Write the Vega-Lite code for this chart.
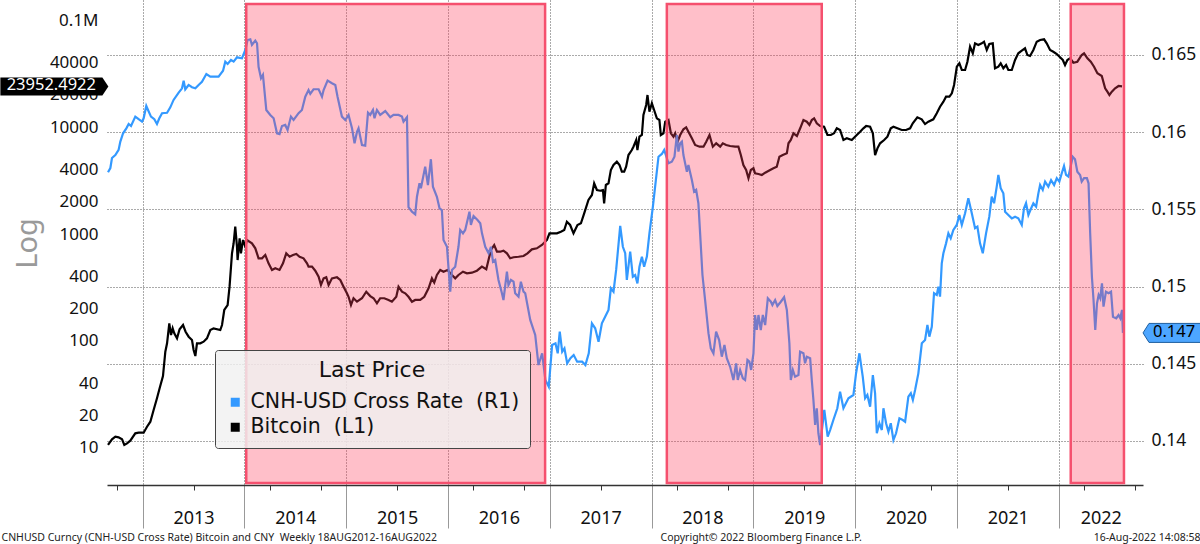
{
 "$schema": "https://vega.github.io/schema/vega-lite/v6.json",
 "width": 1036,
 "height": 485,
 "autosize": {"type": "none"},
 "padding": {"left": 107, "top": 0, "right": 57, "bottom": 59},
 "background": "white",
 "config": {
  "view": {"stroke": null},
  "font": "Noto Sans",
  "axis": {"labelFont": "Noto Sans", "titleFont": "Noto Sans", "labelColor": "#111", "titleColor": "#222"},
  "legend": {"labelFont": "DejaVu Sans", "titleFont": "DejaVu Sans"}
 },
 "datasets": {
  "btc": [
{"t":2012.660,"v":10.67},{"t":2012.699,"v":12.06},{"t":2012.732,"v":12.75},{"t":2012.764,"v":12.59},{"t":2012.798,"v":12.06},{"t":2012.820,"v":10.67},{"t":2012.847,"v":11.06},{"t":2012.879,"v":11.70},{"t":2012.928,"v":13.72},{"t":2012.961,"v":13.90},{"t":2013.010,"v":13.90},{"t":2013.043,"v":15.81},{"t":2013.076,"v":17.62},{"t":2013.108,"v":22.65},{"t":2013.141,"v":29.14},{"t":2013.167,"v":36.14},{"t":2013.200,"v":47.1},{"t":2013.223,"v":79.4},{"t":2013.240,"v":95.2},{"t":2013.262,"v":146.3},{"t":2013.279,"v":113.8},{"t":2013.295,"v":131.4},{"t":2013.311,"v":118.0},{"t":2013.338,"v":105.9},{"t":2013.363,"v":128.6},{"t":2013.397,"v":141.1},{"t":2013.422,"v":122.1},{"t":2013.452,"v":109.7},{"t":2013.485,"v":102.2},{"t":2013.501,"v":82.4},{"t":2013.518,"v":72.4},{"t":2013.534,"v":95.2},{"t":2013.567,"v":95.2},{"t":2013.599,"v":98.5},{"t":2013.632,"v":105.9},{"t":2013.665,"v":126.7},{"t":2013.697,"v":131.4},{"t":2013.763,"v":126.7},{"t":2013.780,"v":141.1},{"t":2013.802,"v":194.9},{"t":2013.835,"v":217.0},{"t":2013.854,"v":321.8},{"t":2013.878,"v":660},{"t":2013.894,"v":819},{"t":2013.910,"v":1170},{"t":2013.927,"v":761},{"t":2013.933,"v":571},{"t":2013.953,"v":912},{"t":2013.966,"v":660},{"t":2013.986,"v":879},{"t":2014.009,"v":761},{"t":2014.025,"v":879},{"t":2014.074,"v":819},{"t":2014.107,"v":735},{"t":2014.139,"v":593},{"t":2014.173,"v":593},{"t":2014.205,"v":637},{"t":2014.237,"v":532},{"t":2014.271,"v":461},{"t":2014.303,"v":478},{"t":2014.345,"v":461},{"t":2014.379,"v":532},{"t":2014.411,"v":660},{"t":2014.444,"v":613},{"t":2014.477,"v":637},{"t":2014.510,"v":650},{"t":2014.542,"v":613},{"t":2014.581,"v":593},{"t":2014.615,"v":532},{"t":2014.630,"v":495},{"t":2014.664,"v":495},{"t":2014.696,"v":454},{"t":2014.729,"v":399},{"t":2014.752,"v":334},{"t":2014.778,"v":385},{"t":2014.804,"v":394},{"t":2014.827,"v":334},{"t":2014.860,"v":385},{"t":2014.909,"v":394},{"t":2014.942,"v":372},{"t":2014.974,"v":322},{"t":2015.007,"v":279},{"t":2015.023,"v":259},{"t":2015.047,"v":217},{"t":2015.072,"v":251},{"t":2015.106,"v":233},{"t":2015.155,"v":251},{"t":2015.197,"v":289},{"t":2015.236,"v":263},{"t":2015.269,"v":251},{"t":2015.302,"v":225},{"t":2015.334,"v":251},{"t":2015.374,"v":251},{"t":2015.416,"v":242},{"t":2015.449,"v":233},{"t":2015.492,"v":259},{"t":2015.514,"v":322},{"t":2015.548,"v":289},{"t":2015.580,"v":279},{"t":2015.612,"v":259},{"t":2015.646,"v":233},{"t":2015.678,"v":242},{"t":2015.727,"v":242},{"t":2015.767,"v":259},{"t":2015.809,"v":311},{"t":2015.842,"v":385},{"t":2015.865,"v":351},{"t":2015.891,"v":414},{"t":2015.924,"v":461},{"t":2015.956,"v":444},{"t":2015.995,"v":461},{"t":2016.039,"v":414},{"t":2016.071,"v":385},{"t":2016.103,"v":414},{"t":2016.147,"v":444},{"t":2016.186,"v":429},{"t":2016.235,"v":435},{"t":2016.284,"v":454},{"t":2016.333,"v":495},{"t":2016.376,"v":468},{"t":2016.398,"v":571},{"t":2016.422,"v":709},{"t":2016.454,"v":789},{"t":2016.481,"v":683},{"t":2016.513,"v":683},{"t":2016.545,"v":698},{"t":2016.579,"v":660},{"t":2016.611,"v":593},{"t":2016.644,"v":606},{"t":2016.693,"v":613},{"t":2016.742,"v":623},{"t":2016.781,"v":660},{"t":2016.824,"v":719},{"t":2016.873,"v":735},{"t":2016.923,"v":789},{"t":2016.972,"v":879},{"t":2016.997,"v":1015},{"t":2017.036,"v":1015},{"t":2017.070,"v":1015},{"t":2017.109,"v":1051},{"t":2017.142,"v":1090},{"t":2017.168,"v":1303},{"t":2017.200,"v":1214},{"t":2017.233,"v":1015},{"t":2017.272,"v":1214},{"t":2017.306,"v":1259},{"t":2017.338,"v":1561},{"t":2017.380,"v":2079},{"t":2017.414,"v":2315},{"t":2017.436,"v":2978},{"t":2017.463,"v":2577},{"t":2017.495,"v":2539},{"t":2017.522,"v":2577},{"t":2017.534,"v":1936},{"t":2017.551,"v":2871},{"t":2017.577,"v":2978},{"t":2017.600,"v":3964},{"t":2017.626,"v":4415},{"t":2017.659,"v":4740},{"t":2017.685,"v":4415},{"t":2017.708,"v":3821},{"t":2017.731,"v":3821},{"t":2017.750,"v":4256},{"t":2017.773,"v":5472},{"t":2017.806,"v":6095},{"t":2017.822,"v":6544},{"t":2017.849,"v":7558},{"t":2017.861,"v":6095},{"t":2017.881,"v":8118},{"t":2017.905,"v":8419},{"t":2017.920,"v":12950},{"t":2017.947,"v":16060},{"t":2017.960,"v":19910},{"t":2017.979,"v":13900},{"t":2018.003,"v":16660},{"t":2018.025,"v":14420},{"t":2018.052,"v":12060},{"t":2018.077,"v":11630},{"t":2018.091,"v":8419},{"t":2018.117,"v":8733},{"t":2018.134,"v":11210},{"t":2018.166,"v":11630},{"t":2018.190,"v":8733},{"t":2018.215,"v":8118},{"t":2018.232,"v":8733},{"t":2018.255,"v":7287},{"t":2018.281,"v":8419},{"t":2018.313,"v":9517},{"t":2018.340,"v":9935},{"t":2018.362,"v":9040},{"t":2018.396,"v":7844},{"t":2018.428,"v":6790},{"t":2018.471,"v":6544},{"t":2018.510,"v":6544},{"t":2018.537,"v":7287},{"t":2018.569,"v":8419},{"t":2018.602,"v":6544},{"t":2018.635,"v":7043},{"t":2018.674,"v":6544},{"t":2018.700,"v":7043},{"t":2018.733,"v":6790},{"t":2018.772,"v":6644},{"t":2018.821,"v":6544},{"t":2018.853,"v":6544},{"t":2018.877,"v":5472},{"t":2018.902,"v":4415},{"t":2018.929,"v":3964},{"t":2018.952,"v":3316},{"t":2018.975,"v":3964},{"t":2019.001,"v":4111},{"t":2019.017,"v":3693},{"t":2019.050,"v":3637},{"t":2019.083,"v":3560},{"t":2019.116,"v":3741},{"t":2019.165,"v":3964},{"t":2019.197,"v":4111},{"t":2019.230,"v":4256},{"t":2019.256,"v":5278},{"t":2019.289,"v":5472},{"t":2019.329,"v":5678},{"t":2019.345,"v":7043},{"t":2019.368,"v":7558},{"t":2019.394,"v":8733},{"t":2019.428,"v":8240},{"t":2019.460,"v":9725},{"t":2019.492,"v":11630},{"t":2019.525,"v":11210},{"t":2019.551,"v":10440},{"t":2019.574,"v":11630},{"t":2019.597,"v":12060},{"t":2019.623,"v":10830},{"t":2019.656,"v":10210},{"t":2019.695,"v":10060},{"t":2019.728,"v":8419},{"t":2019.761,"v":8419},{"t":2019.793,"v":8733},{"t":2019.820,"v":9725},{"t":2019.852,"v":9376},{"t":2019.885,"v":7558},{"t":2019.918,"v":7844},{"t":2019.967,"v":7558},{"t":2020.016,"v":8419},{"t":2020.049,"v":9040},{"t":2020.081,"v":9725},{"t":2020.108,"v":10210},{"t":2020.147,"v":10060},{"t":2020.174,"v":8733},{"t":2020.196,"v":5472},{"t":2020.219,"v":6321},{"t":2020.245,"v":7043},{"t":2020.285,"v":7558},{"t":2020.317,"v":8118},{"t":2020.350,"v":9725},{"t":2020.376,"v":10060},{"t":2020.415,"v":9725},{"t":2020.458,"v":9376},{"t":2020.500,"v":9376},{"t":2020.540,"v":9725},{"t":2020.566,"v":10830},{"t":2020.611,"v":12320},{"t":2020.654,"v":11800},{"t":2020.687,"v":10660},{"t":2020.719,"v":11210},{"t":2020.768,"v":11800},{"t":2020.802,"v":13430},{"t":2020.834,"v":15480},{"t":2020.867,"v":17230},{"t":2020.893,"v":19200},{"t":2020.926,"v":19200},{"t":2020.950,"v":20650},{"t":2020.972,"v":24690},{"t":2020.999,"v":36610},{"t":2021.024,"v":39390},{"t":2021.048,"v":34100},{"t":2021.080,"v":34100},{"t":2021.103,"v":40760},{"t":2021.129,"v":56300},{"t":2021.156,"v":48850},{"t":2021.178,"v":60550},{"t":2021.210,"v":58400},{"t":2021.244,"v":60550},{"t":2021.266,"v":62680},{"t":2021.293,"v":52450},{"t":2021.318,"v":59670},{"t":2021.352,"v":60550},{"t":2021.374,"v":35370},{"t":2021.407,"v":36610},{"t":2021.430,"v":39390},{"t":2021.456,"v":35370},{"t":2021.483,"v":37970},{"t":2021.505,"v":34100},{"t":2021.539,"v":34100},{"t":2021.571,"v":42280},{"t":2021.603,"v":48850},{"t":2021.637,"v":51670},{"t":2021.669,"v":54390},{"t":2021.692,"v":47100},{"t":2021.718,"v":46100},{"t":2021.751,"v":52450},{"t":2021.784,"v":62680},{"t":2021.817,"v":65040},{"t":2021.856,"v":66020},{"t":2021.882,"v":60550},{"t":2021.915,"v":52450},{"t":2021.947,"v":50540},{"t":2021.981,"v":48110},{"t":2022.013,"v":44810},{"t":2022.040,"v":42280},{"t":2022.062,"v":37970},{"t":2022.085,"v":42280},{"t":2022.112,"v":43850},{"t":2022.144,"v":39900},{"t":2022.183,"v":40760},{"t":2022.226,"v":47100},{"t":2022.249,"v":48850},{"t":2022.282,"v":43850},{"t":2022.315,"v":40760},{"t":2022.347,"v":36610},{"t":2022.380,"v":31770},{"t":2022.423,"v":29970},{"t":2022.456,"v":22990},{"t":2022.478,"v":21380},{"t":2022.498,"v":19910},{"t":2022.522,"v":21380},{"t":2022.554,"v":22990},{"t":2022.588,"v":24160},{"t":2022.622,"v":23952.49}
  ],
  "cnh": [
{"t":2012.660,"v":0.15740},{"t":2012.683,"v":0.15768},{"t":2012.699,"v":0.15833},{"t":2012.732,"v":0.15852},{"t":2012.764,"v":0.15885},{"t":2012.781,"v":0.15939},{"t":2012.808,"v":0.15993},{"t":2012.840,"v":0.16025},{"t":2012.863,"v":0.16053},{"t":2012.886,"v":0.16040},{"t":2012.928,"v":0.16101},{"t":2012.961,"v":0.16084},{"t":2012.994,"v":0.16068},{"t":2013.010,"v":0.16090},{"t":2013.036,"v":0.16170},{"t":2013.053,"v":0.16144},{"t":2013.082,"v":0.16101},{"t":2013.115,"v":0.16084},{"t":2013.141,"v":0.16053},{"t":2013.164,"v":0.16090},{"t":2013.191,"v":0.16123},{"t":2013.240,"v":0.16126},{"t":2013.272,"v":0.16161},{"t":2013.304,"v":0.16209},{"t":2013.354,"v":0.16256},{"t":2013.387,"v":0.16284},{"t":2013.403,"v":0.16334},{"t":2013.419,"v":0.16278},{"t":2013.452,"v":0.16306},{"t":2013.485,"v":0.16291},{"t":2013.518,"v":0.16284},{"t":2013.550,"v":0.16306},{"t":2013.583,"v":0.16327},{"t":2013.626,"v":0.16377},{"t":2013.665,"v":0.16360},{"t":2013.746,"v":0.16360},{"t":2013.790,"v":0.16398},{"t":2013.812,"v":0.16457},{"t":2013.835,"v":0.16442},{"t":2013.868,"v":0.16468},{"t":2013.894,"v":0.16457},{"t":2013.927,"v":0.16485},{"t":2013.976,"v":0.16479},{"t":2014.009,"v":0.16533},{"t":2014.031,"v":0.16597},{"t":2014.058,"v":0.16602},{"t":2014.074,"v":0.16565},{"t":2014.107,"v":0.16593},{"t":2014.124,"v":0.16576},{"t":2014.139,"v":0.16424},{"t":2014.163,"v":0.16349},{"t":2014.182,"v":0.16371},{"t":2014.215,"v":0.16144},{"t":2014.254,"v":0.16112},{"t":2014.287,"v":0.16090},{"t":2014.320,"v":0.15993},{"t":2014.345,"v":0.15988},{"t":2014.369,"v":0.16040},{"t":2014.401,"v":0.16047},{"t":2014.424,"v":0.16014},{"t":2014.457,"v":0.16101},{"t":2014.483,"v":0.16079},{"t":2014.532,"v":0.16123},{"t":2014.565,"v":0.16144},{"t":2014.598,"v":0.16230},{"t":2014.630,"v":0.16273},{"t":2014.647,"v":0.16248},{"t":2014.679,"v":0.16278},{"t":2014.729,"v":0.16278},{"t":2014.762,"v":0.16230},{"t":2014.778,"v":0.16273},{"t":2014.817,"v":0.16334},{"t":2014.860,"v":0.16317},{"t":2014.893,"v":0.16306},{"t":2014.915,"v":0.16230},{"t":2014.958,"v":0.16101},{"t":2014.991,"v":0.16079},{"t":2015.023,"v":0.16112},{"t":2015.057,"v":0.16025},{"t":2015.082,"v":0.15928},{"t":2015.106,"v":0.16003},{"t":2015.121,"v":0.16025},{"t":2015.155,"v":0.15917},{"t":2015.187,"v":0.15913},{"t":2015.214,"v":0.16126},{"t":2015.236,"v":0.16112},{"t":2015.263,"v":0.16144},{"t":2015.278,"v":0.16090},{"t":2015.302,"v":0.16144},{"t":2015.334,"v":0.16112},{"t":2015.384,"v":0.16137},{"t":2015.433,"v":0.16097},{"t":2015.465,"v":0.16112},{"t":2015.514,"v":0.16112},{"t":2015.548,"v":0.16101},{"t":2015.563,"v":0.16068},{"t":2015.597,"v":0.16097},{"t":2015.612,"v":0.15514},{"t":2015.646,"v":0.15485},{"t":2015.678,"v":0.15468},{"t":2015.695,"v":0.15582},{"t":2015.720,"v":0.15669},{"t":2015.734,"v":0.15637},{"t":2015.776,"v":0.15777},{"t":2015.803,"v":0.15658},{"t":2015.832,"v":0.15825},{"t":2015.852,"v":0.15647},{"t":2015.891,"v":0.15582},{"t":2015.917,"v":0.15507},{"t":2015.940,"v":0.15496},{"t":2015.956,"v":0.15302},{"t":2015.990,"v":0.15258},{"t":2016.022,"v":0.14967},{"t":2016.039,"v":0.15108},{"t":2016.071,"v":0.15129},{"t":2016.103,"v":0.15258},{"t":2016.120,"v":0.15367},{"t":2016.147,"v":0.15345},{"t":2016.169,"v":0.15367},{"t":2016.192,"v":0.15431},{"t":2016.211,"v":0.15485},{"t":2016.225,"v":0.15399},{"t":2016.251,"v":0.15457},{"t":2016.290,"v":0.15431},{"t":2016.317,"v":0.15410},{"t":2016.334,"v":0.15345},{"t":2016.366,"v":0.15258},{"t":2016.399,"v":0.15216},{"t":2016.422,"v":0.15258},{"t":2016.442,"v":0.15161},{"t":2016.464,"v":0.15172},{"t":2016.496,"v":0.15043},{"t":2016.530,"v":0.14957},{"t":2016.545,"v":0.14913},{"t":2016.579,"v":0.15097},{"t":2016.594,"v":0.15010},{"t":2016.618,"v":0.15043},{"t":2016.644,"v":0.15032},{"t":2016.660,"v":0.14957},{"t":2016.693,"v":0.14935},{"t":2016.716,"v":0.15032},{"t":2016.742,"v":0.14967},{"t":2016.759,"v":0.14957},{"t":2016.808,"v":0.14784},{"t":2016.857,"v":0.14687},{"t":2016.889,"v":0.14492},{"t":2016.925,"v":0.14568},{"t":2016.957,"v":0.14395},{"t":2016.990,"v":0.14352},{"t":2017.023,"v":0.14622},{"t":2017.056,"v":0.14633},{"t":2017.078,"v":0.14568},{"t":2017.098,"v":0.14708},{"t":2017.122,"v":0.14578},{"t":2017.144,"v":0.14600},{"t":2017.171,"v":0.14503},{"t":2017.203,"v":0.14536},{"t":2017.235,"v":0.14557},{"t":2017.269,"v":0.14514},{"t":2017.318,"v":0.14514},{"t":2017.350,"v":0.14492},{"t":2017.383,"v":0.14568},{"t":2017.414,"v":0.14762},{"t":2017.446,"v":0.14730},{"t":2017.479,"v":0.14643},{"t":2017.512,"v":0.14762},{"t":2017.544,"v":0.14805},{"t":2017.577,"v":0.14849},{"t":2017.600,"v":0.14989},{"t":2017.626,"v":0.14967},{"t":2017.652,"v":0.15108},{"t":2017.692,"v":0.15393},{"t":2017.718,"v":0.15258},{"t":2017.741,"v":0.15216},{"t":2017.757,"v":0.15043},{"t":2017.790,"v":0.15226},{"t":2017.816,"v":0.15064},{"t":2017.839,"v":0.15075},{"t":2017.861,"v":0.15021},{"t":2017.881,"v":0.15129},{"t":2017.905,"v":0.15194},{"t":2017.927,"v":0.15129},{"t":2017.954,"v":0.15194},{"t":2017.979,"v":0.15345},{"t":2018.013,"v":0.15518},{"t":2018.035,"v":0.15647},{"t":2018.068,"v":0.15841},{"t":2018.101,"v":0.15859},{"t":2018.124,"v":0.15885},{"t":2018.166,"v":0.15799},{"t":2018.199,"v":0.15809},{"t":2018.225,"v":0.15841},{"t":2018.249,"v":0.15982},{"t":2018.264,"v":0.15874},{"t":2018.281,"v":0.15928},{"t":2018.298,"v":0.15939},{"t":2018.313,"v":0.15852},{"t":2018.347,"v":0.15744},{"t":2018.362,"v":0.15788},{"t":2018.396,"v":0.15690},{"t":2018.418,"v":0.15615},{"t":2018.438,"v":0.15626},{"t":2018.460,"v":0.15540},{"t":2018.477,"v":0.15345},{"t":2018.500,"v":0.15075},{"t":2018.526,"v":0.14913},{"t":2018.559,"v":0.14698},{"t":2018.582,"v":0.14600},{"t":2018.608,"v":0.14568},{"t":2018.634,"v":0.14708},{"t":2018.664,"v":0.14654},{"t":2018.690,"v":0.14546},{"t":2018.716,"v":0.14622},{"t":2018.739,"v":0.14536},{"t":2018.772,"v":0.14481},{"t":2018.804,"v":0.14395},{"t":2018.831,"v":0.14503},{"t":2018.847,"v":0.14395},{"t":2018.870,"v":0.14460},{"t":2018.897,"v":0.14406},{"t":2018.919,"v":0.14395},{"t":2018.942,"v":0.14525},{"t":2018.961,"v":0.14514},{"t":2018.978,"v":0.14460},{"t":2019.001,"v":0.14568},{"t":2019.017,"v":0.14816},{"t":2019.034,"v":0.14719},{"t":2019.050,"v":0.14816},{"t":2019.073,"v":0.14719},{"t":2019.093,"v":0.14816},{"t":2019.116,"v":0.14751},{"t":2019.142,"v":0.14924},{"t":2019.172,"v":0.14902},{"t":2019.187,"v":0.14881},{"t":2019.214,"v":0.14913},{"t":2019.236,"v":0.14874},{"t":2019.270,"v":0.14902},{"t":2019.302,"v":0.14931},{"t":2019.329,"v":0.14849},{"t":2019.354,"v":0.14633},{"t":2019.368,"v":0.14395},{"t":2019.388,"v":0.14460},{"t":2019.410,"v":0.14416},{"t":2019.443,"v":0.14427},{"t":2019.459,"v":0.14578},{"t":2019.492,"v":0.14568},{"t":2019.508,"v":0.14503},{"t":2019.525,"v":0.14546},{"t":2019.558,"v":0.14536},{"t":2019.574,"v":0.14395},{"t":2019.590,"v":0.14266},{"t":2019.607,"v":0.14104},{"t":2019.623,"v":0.14212},{"t":2019.639,"v":0.14050},{"t":2019.656,"v":0.13974},{"t":2019.697,"v":0.14201},{"t":2019.730,"v":0.14028},{"t":2019.754,"v":0.14071},{"t":2019.786,"v":0.14136},{"t":2019.825,"v":0.14212},{"t":2019.852,"v":0.14319},{"t":2019.885,"v":0.14212},{"t":2019.934,"v":0.14277},{"t":2019.983,"v":0.14298},{"t":2020.009,"v":0.14438},{"t":2020.042,"v":0.14568},{"t":2020.075,"v":0.14416},{"t":2020.098,"v":0.14277},{"t":2020.120,"v":0.14298},{"t":2020.147,"v":0.14222},{"t":2020.174,"v":0.14427},{"t":2020.196,"v":0.14309},{"t":2020.213,"v":0.14050},{"t":2020.238,"v":0.14115},{"t":2020.262,"v":0.14071},{"t":2020.278,"v":0.14212},{"t":2020.304,"v":0.14115},{"t":2020.327,"v":0.14060},{"t":2020.350,"v":0.14115},{"t":2020.376,"v":0.14006},{"t":2020.402,"v":0.14050},{"t":2020.435,"v":0.14147},{"t":2020.468,"v":0.14136},{"t":2020.491,"v":0.14125},{"t":2020.523,"v":0.14287},{"t":2020.547,"v":0.14309},{"t":2020.567,"v":0.14266},{"t":2020.589,"v":0.14330},{"t":2020.621,"v":0.14438},{"t":2020.655,"v":0.14633},{"t":2020.687,"v":0.14654},{"t":2020.710,"v":0.14751},{"t":2020.729,"v":0.14676},{"t":2020.753,"v":0.14740},{"t":2020.775,"v":0.14957},{"t":2020.802,"v":0.14946},{"t":2020.818,"v":0.14999},{"t":2020.834,"v":0.14935},{"t":2020.851,"v":0.15151},{"t":2020.867,"v":0.15216},{"t":2020.893,"v":0.15280},{"t":2020.916,"v":0.15345},{"t":2020.939,"v":0.15313},{"t":2020.965,"v":0.15367},{"t":2020.998,"v":0.15399},{"t":2021.024,"v":0.15464},{"t":2021.048,"v":0.15399},{"t":2021.080,"v":0.15475},{"t":2021.112,"v":0.15572},{"t":2021.146,"v":0.15475},{"t":2021.178,"v":0.15378},{"t":2021.201,"v":0.15388},{"t":2021.227,"v":0.15280},{"t":2021.254,"v":0.15216},{"t":2021.286,"v":0.15345},{"t":2021.318,"v":0.15453},{"t":2021.342,"v":0.15582},{"t":2021.365,"v":0.15540},{"t":2021.391,"v":0.15647},{"t":2021.407,"v":0.15723},{"t":2021.430,"v":0.15637},{"t":2021.456,"v":0.15604},{"t":2021.473,"v":0.15485},{"t":2021.505,"v":0.15464},{"t":2021.539,"v":0.15442},{"t":2021.571,"v":0.15453},{"t":2021.603,"v":0.15442},{"t":2021.637,"v":0.15399},{"t":2021.659,"v":0.15507},{"t":2021.679,"v":0.15540},{"t":2021.702,"v":0.15464},{"t":2021.725,"v":0.15501},{"t":2021.751,"v":0.15540},{"t":2021.778,"v":0.15518},{"t":2021.800,"v":0.15604},{"t":2021.817,"v":0.15658},{"t":2021.843,"v":0.15626},{"t":2021.866,"v":0.15680},{"t":2021.898,"v":0.15647},{"t":2021.925,"v":0.15690},{"t":2021.955,"v":0.15658},{"t":2021.981,"v":0.15702},{"t":2022.006,"v":0.15680},{"t":2022.030,"v":0.15734},{"t":2022.052,"v":0.15781},{"t":2022.072,"v":0.15723},{"t":2022.095,"v":0.15712},{"t":2022.138,"v":0.15841},{"t":2022.160,"v":0.15825},{"t":2022.183,"v":0.15744},{"t":2022.210,"v":0.15723},{"t":2022.226,"v":0.15680},{"t":2022.249,"v":0.15702},{"t":2022.277,"v":0.15702},{"t":2022.293,"v":0.15669},{"t":2022.309,"v":0.15345},{"t":2022.326,"v":0.15064},{"t":2022.342,"v":0.14913},{"t":2022.359,"v":0.14719},{"t":2022.376,"v":0.14892},{"t":2022.392,"v":0.14946},{"t":2022.408,"v":0.14924},{"t":2022.425,"v":0.15021},{"t":2022.440,"v":0.14870},{"t":2022.464,"v":0.14967},{"t":2022.490,"v":0.14957},{"t":2022.514,"v":0.14967},{"t":2022.533,"v":0.14805},{"t":2022.565,"v":0.14795},{"t":2022.588,"v":0.14816},{"t":2022.605,"v":0.14795},{"t":2022.622,"v":0.14849},{"t":2022.631,"v":0.14700}
  ],
  "btc_last": [{"v": 23952.4922, "label": "23952.4922"}],
  "cnh_last": [{"v": 0.147, "label": "0.147"}],
  "shading": [
   {"start": 2014.018, "end": 2016.954},
   {"start": 2018.150, "end": 2019.672},
   {"start": 2022.118, "end": 2022.641}
  ]
 },
 "layer": [
  {
   "layer": [
    {
     "data": {"name": "btc"},
     "mark": {"type": "line", "strokeWidth": 2.2},
     "encoding": {
      "x": {
       "field": "t", "type": "quantitative",
       "scale": {"domain": [2012.65, 2022.828], "nice": false, "zero": false},
       "axis": {
        "orient": "bottom",
        "values": [2013, 2014, 2015, 2016, 2017, 2018, 2019, 2020, 2021, 2022],
        "labels": false,
        "grid": true, "gridDash": [1, 2], "gridColor": "#555", "gridWidth": 1,
        "ticks": true, "tickSize": 43, "tickColor": "#999", "tickWidth": 1,
        "domain": true, "domainColor": "#333", "domainWidth": 1.5,
        "title": "CNHUSD Curncy (CNH-USD Cross Rate) Bitcoin and CNY\u00a0 Weekly 18AUG2012-16AUG2022",
        "titleFontSize": 10.5, "titleFontWeight": "normal", "titleX": -106, "titleY": 52,
        "titleAlign": "left", "titleBaseline": "middle", "titleAnchor": "start"
       }
      },
      "y": {
       "field": "v", "type": "quantitative",
       "scale": {"type": "log", "domain": [4.51, 153800], "nice": false},
       "axis": {
        "orient": "left",
        "values": [10, 20, 40, 100, 200, 400, 1000, 2000, 4000, 10000, 20000, 40000, 100000],
        "labelExpr": "datum.value >= 100000 ? '0.1M' : format(datum.value, 'd')",
        "ticks": false, "domain": false, "grid": false,
        "labelFontSize": 17, "labelPadding": 9,
        "title": "Log", "titleFontSize": 29, "titleColor": "#9a9a9a", "titleFontWeight": "normal",
        "titleAngle": -90, "titleX": -80, "titleY": 243, "titleAlign": "center", "titleBaseline": "middle"
       }
      },
      "color": {
       "datum": "Bitcoin\u00a0 (L1)", "type": "nominal",
       "scale": {"domain": ["CNH-USD Cross Rate\u00a0 (R1)", "Bitcoin\u00a0 (L1)"], "range": ["#3399ff", "#000000"]},
       "legend": {
        "orient": "none", "legendX": 108, "legendY": 350,
        "title": "Last Price", "titleFontSize": 22, "titleFontWeight": "normal", "titleColor": "#111",
        "titleAnchor": "middle", "titlePadding": 10,
        "labelFontSize": 20.5, "labelColor": "#111", "labelLimit": 400, "labelOffset": 5,
        "symbolType": "square", "symbolSize": 81, "symbolStrokeWidth": 0,
        "rowPadding": 4, "padding": 10,
        "fillColor": "rgba(240,240,240,0.82)", "strokeColor": "#444", "cornerRadius": 3,
        "encode": {"symbols": {"update": {"fill": {"scale": "color", "field": "value"}, "stroke": {"value": "transparent"}}}}
       }
      }
     }
    },
    {
     "data": {"name": "btc_last"},
     "mark": {"type": "point", "shape": "M-1,-0.167L0.889,-0.167L1,0L0.889,0.167L-1,0.167Z", "filled": true, "color": "#000000", "opacity": 1, "size": 11664, "strokeWidth": 0},
     "encoding": {
      "x": {"datum": 2012.133, "type": "quantitative"},
      "y": {"field": "v", "type": "quantitative"}
     }
    },
    {
     "data": {"name": "btc_last"},
     "mark": {"type": "text", "color": "#ffffff", "fontSize": 16.5, "font": "Noto Sans", "align": "center", "baseline": "middle", "dy": -1},
     "encoding": {
      "x": {"datum": 2012.103, "type": "quantitative"},
      "y": {"field": "v", "type": "quantitative"},
      "text": {"field": "label"}
     }
    }
   ]
  },
  {
   "layer": [
    {
     "data": {"name": "cnh"},
     "mark": {"type": "line", "strokeWidth": 2.2},
     "encoding": {
      "x": {
       "field": "t", "type": "quantitative",
       "axis": {
        "orient": "bottom",
        "values": [2012.75, 2013.25, 2013.5, 2013.75, 2014.25, 2014.5, 2014.75, 2015.25, 2015.5, 2015.75, 2016.25, 2016.5, 2016.75, 2017.25, 2017.5, 2017.75, 2018.25, 2018.5, 2018.75, 2019.25, 2019.5, 2019.75, 2020.25, 2020.5, 2020.75, 2021.25, 2021.5, 2021.75, 2022.25, 2022.5, 2022.75],
        "labels": false, "grid": false, "domain": false,
        "ticks": true, "tickSize": 5, "tickColor": "#333", "tickWidth": 1,
        "title": "Copyright\u00a9 2022 Bloomberg Finance L.P.",
        "titleFontSize": 10.5, "titleFontWeight": "normal", "titleX": 553, "titleY": 52,
        "titleAlign": "left", "titleBaseline": "middle", "titleAnchor": "start"
       }
      },
      "y": {
       "field": "v", "type": "quantitative",
       "scale": {"domain": [0.13715, 0.168562], "nice": false, "zero": false},
       "axis": {
        "orient": "right",
        "values": [0.14, 0.145, 0.15, 0.155, 0.16, 0.165],
        "format": ".3~f",
        "grid": true, "gridDash": [1, 2], "gridColor": "#555", "gridWidth": 1,
        "ticks": false, "domain": false,
        "labelFontSize": 17.5, "labelPadding": 8, "title": null
       }
      },
      "color": {"datum": "CNH-USD Cross Rate\u00a0 (R1)", "type": "nominal"}
     }
    },
    {
     "data": {"name": "cnh_last"},
     "mark": {"type": "point", "shape": "M-1,0L-0.797,-0.322L1,-0.322L1,0.322L-0.797,0.322Z", "filled": true, "fill": "#4da6ff", "stroke": "#1f5f9f", "strokeWidth": 1, "opacity": 1, "size": 3481},
     "encoding": {
      "x": {"datum": 2023.118, "type": "quantitative"},
      "y": {"field": "v", "type": "quantitative"}
     }
    },
    {
     "data": {"name": "cnh_last"},
     "mark": {"type": "text", "color": "#000000", "fontSize": 16.5, "font": "Noto Sans", "align": "center", "baseline": "middle", "dy": -1},
     "encoding": {
      "x": {"datum": 2023.133, "type": "quantitative"},
      "y": {"field": "v", "type": "quantitative"},
      "text": {"field": "label"}
     }
    }
   ]
  },
  {
   "data": {"name": "shading"},
   "mark": {"type": "rect", "fill": "#ff3c5a", "fillOpacity": 0.33, "stroke": "#f5506e", "strokeWidth": 2.5, "strokeOpacity": 1},
   "encoding": {
    "x": {
     "field": "start", "type": "quantitative",
     "axis": {
      "orient": "bottom",
      "values": [2013.5, 2014.5, 2015.5, 2016.5, 2017.5, 2018.5, 2019.5, 2020.5, 2021.5, 2022.413],
      "labelExpr": "format(floor(datum.value), 'd')",
      "ticks": false, "tickSize": 0, "domain": false, "grid": false,
      "labelFontSize": 18, "labelPadding": 24, "labelColor": "#111",
      "labelFlush": false, "labelOverlap": false, "labelBound": false,
      "title": "16-Aug-2022 14:08:58",
      "titleFontSize": 10.5, "titleFontWeight": "normal", "titleX": 1093, "titleY": 52,
      "titleAlign": "right", "titleBaseline": "middle", "titleAnchor": "end"
     }
    },
    "x2": {"field": "end"},
    "y": {"datum": 0.1683, "type": "quantitative", "scale": {"domain": [0.13715, 0.168562], "nice": false, "zero": false}, "axis": null},
    "y2": {"datum": 0.13728}
   }
  }
 ],
 "resolve": {"scale": {"y": "independent"}, "axis": {"x": "independent", "y": "independent"}}
}
